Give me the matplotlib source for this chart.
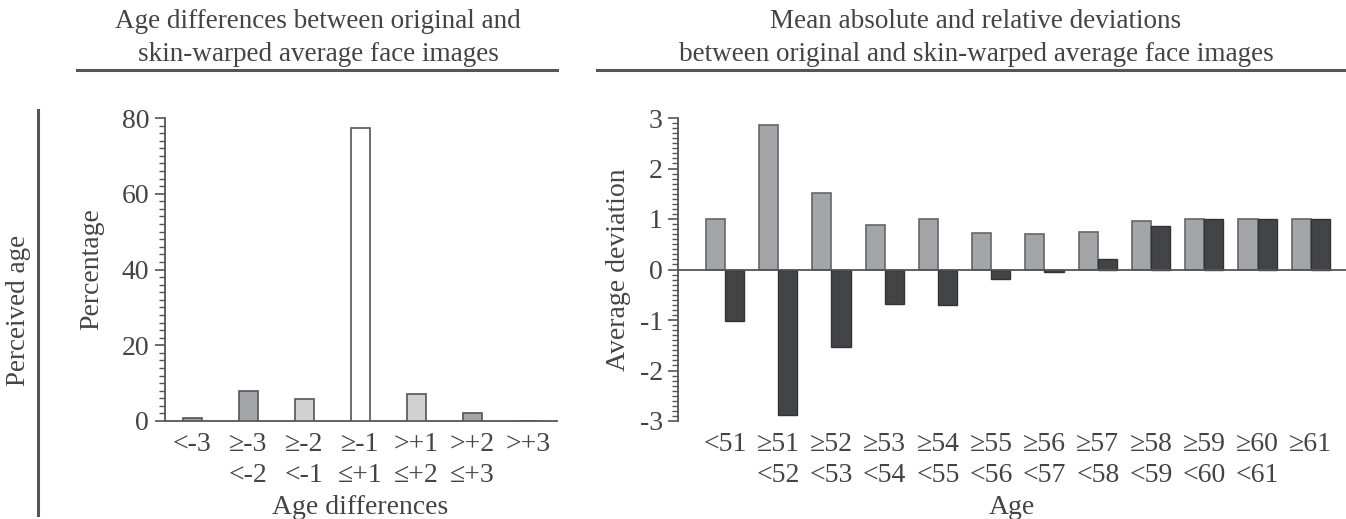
import matplotlib
matplotlib.use("Agg")
import matplotlib.pyplot as plt
from matplotlib.ticker import MultipleLocator
import numpy as np

# ---- data ----
left_categories = ["<-3", "≥-3\n<-2", "≥-2\n<-1", "≥-1\n≤+1", ">+1\n≤+2", ">+2\n≤+3", ">+3"]
left_values = [0.8, 7.8, 5.7, 77.3, 7.0, 2.1, 0.0]

right_categories = ["<51", "≥51\n<52", "≥52\n<53", "≥53\n<54", "≥54\n<55", "≥55\n<56",
                    "≥56\n<57", "≥57\n<58", "≥58\n<59", "≥59\n<60", "≥60\n<61", "≥61"]
abs_dev = [1.0, 2.86, 1.51, 0.89, 1.0, 0.73, 0.71, 0.75, 0.96, 1.0, 1.0, 1.0]
rel_dev = [-1.02, -2.88, -1.53, -0.68, -0.71, -0.18, -0.05, 0.21, 0.86, 1.0, 1.0, 1.0]

left_title = "Age differences between original and\nskin-warped average face images"
right_title = "Mean absolute and relative deviations\nbetween original and skin-warped average face images"

# ---- style ----
plt.rcParams['font.family'] = ['Liberation Serif', 'DejaVu Serif']
TXT = "#444444"
AX = "#555555"
FS = 19.5
TFS = 20

W, H = 1346, 519
fig = plt.figure(figsize=(W / 100, H / 100), dpi=100)

def fx(px):
    return px / W

def fy(py):
    return 1 - py / H

# ---- left panel ----
axL = fig.add_axes([fx(164.5), fy(421), fx(556.5 - 164.5), fy(118) - fy(421)])
left_colors = ['#a4a5a8', '#a4a5a8', '#d0d1d2', '#ffffff', '#d0d1d2', '#a4a5a8', '#a4a5a8']
xl = np.arange(len(left_categories))
axL.bar(xl, left_values, width=0.34, color=left_colors, edgecolor='#555555', linewidth=1.2, zorder=3)
axL.set_xlim(-0.5, len(left_categories) - 0.5)
axL.set_ylim(0, 80)
axL.yaxis.set_major_locator(MultipleLocator(20))
axL.yaxis.set_minor_locator(MultipleLocator(2))
axL.set_xticks(xl)
axL.set_xticklabels(left_categories, linespacing=1.3)
axL.tick_params(axis='x', length=0, pad=8, labelsize=TFS, labelcolor=TXT)
axL.tick_params(axis='y', which='major', direction='out', length=7, width=1.2, color=AX,
                labelsize=TFS, labelcolor=TXT, pad=4)
axL.tick_params(axis='y', which='minor', direction='out', length=4, width=1, color=AX)
for s in ['top', 'right']:
    axL.spines[s].set_visible(False)
for s in ['left', 'bottom']:
    axL.spines[s].set_color(AX)
    axL.spines[s].set_linewidth(1.3)
axL.set_xlabel("Age differences", fontsize=TFS, color=TXT, labelpad=5)
axL.set_ylabel("Percentage", fontsize=TFS, color=TXT)
axL.yaxis.set_label_coords((104 - 164.5) / (556.5 - 164.5), 0.5)

# ---- right panel ----
axR = fig.add_axes([fx(678), fy(421), fx(1346 - 678), fy(118) - fy(421)])
xr = np.arange(len(right_categories))
bw = 0.36
axR.bar(xr - bw / 2, abs_dev, width=bw, color='#a4a5a8', edgecolor='#666666', linewidth=1.2, zorder=3)
axR.bar(xr + bw / 2, rel_dev, width=bw, color='#434446', edgecolor='#333333', linewidth=1.0, zorder=3)
axR.axhline(0, color=AX, linewidth=1.3, zorder=4)
axR.set_xlim(-0.88, 11.66)
axR.set_ylim(-3, 3)
axR.yaxis.set_major_locator(MultipleLocator(1))
axR.yaxis.set_minor_locator(MultipleLocator(0.1))
axR.set_xticks(xr)
axR.set_xticklabels(right_categories, linespacing=1.3)
axR.tick_params(axis='x', length=0, pad=8, labelsize=TFS, labelcolor=TXT)
axR.tick_params(axis='y', which='major', direction='out', length=7, width=1.2, color=AX,
                labelsize=TFS, labelcolor=TXT, pad=4)
axR.tick_params(axis='y', which='minor', direction='out', length=4, width=1, color=AX)
for s in ['top', 'right', 'bottom']:
    axR.spines[s].set_visible(False)
axR.spines['left'].set_color(AX)
axR.spines['left'].set_linewidth(1.3)
axR.set_xlabel("Age", fontsize=TFS, color=TXT, labelpad=5)
axR.set_ylabel("Average deviation", fontsize=TFS, color=TXT)
axR.yaxis.set_label_coords((631 - 678) / (1346 - 678), 0.5)
axR.set_yticks([3, 2, 1, 0, -1, -2, -3])
axR.set_yticklabels(["3", "2", "1", "0", "-1", "-2", "-3"])

# ---- titles and decorations ----
fig.text(fx(318), fy(38), left_title, ha='center', va='center', fontsize=FS, color=TXT, linespacing=1.38)
fig.text(fx(976), fy(38), right_title, ha='center', va='center', fontsize=FS, color=TXT, linespacing=1.38)
fig.add_artist(plt.Line2D([fx(77), fx(557)], [fy(70), fy(70)], color=AX, linewidth=2.2))
fig.add_artist(plt.Line2D([fx(597), fx(1346)], [fy(70), fy(70)], color=AX, linewidth=2.2))
fig.add_artist(plt.Line2D([fx(38), fx(38)], [fy(110), fy(515)], color=AX, linewidth=2.2))
fig.text(fx(19), fy(310), "Perceived age", rotation=90, ha='center', va='center', fontsize=FS, color=TXT)

fig.savefig("out.png", dpi=100)
